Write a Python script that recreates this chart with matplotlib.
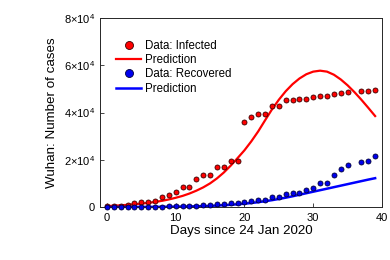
import matplotlib
matplotlib.use("Agg")
import matplotlib.pyplot as plt
import numpy as np

plt.rcParams['font.family'] = ['Liberation Sans', 'DejaVu Sans']
plt.rcParams['mathtext.fontset'] = 'custom'
plt.rcParams['mathtext.rm'] = 'Liberation Sans'

days = np.arange(0, 40)

# data (day 36 missing)
infected = [500, 550, 600, 700, 1600, 1950, 2260, 2650, 4200, 5080,
            6300, 8400, 8400, 11700, 13600, 13600, 16900, 16900, 19600, 19600,
            36100, 38100, 39500, 39500, 42750, 42750, 45300, 45450, 45600, 45850,
            46400, 47100, 47100, 47800, 48250, 48700, np.nan, 49250, 49250, 49500]
recovered = [30, 30, 40, 40, 40, 50, 100, 150, 200, 250,
             300, 400, 500, 600, 800, 900, 1300, 1400, 1700, 1800,
             2100, 2400, 2840, 2840, 4100, 4230, 5370, 6050, 6050, 7200,
             8170, 10300, 10300, 13400, 15950, 17650, np.nan, 19200, 19500, 21450]

# model curves
pred_inf = [400, 550, 720, 920, 1150, 1420, 1750, 2150, 2600, 3200,
            3900, 4700, 5700, 6900, 8300, 10000, 12100, 14600, 17500, 20700,
            24000, 27800, 32000, 36700, 41300, 45400, 49000, 52000, 54400, 56200,
            57300, 57700, 57300, 56000, 54000, 51500, 48600, 45400, 42000, 38500]
pred_rec = [0, 5, 10, 15, 25, 35, 45, 60, 80, 100,
            140, 180, 230, 300, 380, 480, 610, 760, 940, 1150,
            1400, 1700, 2050, 2450, 2900, 3400, 3950, 4550, 5200, 5840,
            6480, 7120, 7760, 8400, 9040, 9680, 10320, 10960, 11600, 12200]

yticks = [0, 20000, 40000, 60000, 80000]
ylabels = ['0', r'$2{\times}10^{4}$', r'$4{\times}10^{4}$', r'$6{\times}10^{4}$', r'$8{\times}10^{4}$']

fig = plt.figure(figsize=(3.9, 2.6), dpi=100)
ax = fig.add_axes([0.2564, 0.2038, 0.7231, 0.727])

ax.plot(days, infected, 'o', color='#ff0000', mec='#3a0000', mew=0.6, ms=3.6,
        label='Data: Infected', clip_on=False, zorder=3)
ax.plot(days, pred_inf, '-', color='#ff0000', lw=1.6, label='Prediction')
ax.plot(days, recovered, 'o', color='#0000ee', mec='#00003a', mew=0.6, ms=3.6,
        label='Data: Recovered', clip_on=False, zorder=3)
ax.plot(days, pred_rec, '-', color='#0000ff', lw=1.8, label='Prediction')

ax.set_xlim(-1, 40)
ax.set_ylim(0, 80000)
ax.set_xticks([0, 10, 20, 30, 40])
ax.set_yticks(yticks)
ax.set_yticklabels(ylabels)
ax.tick_params(direction='in', length=3, width=0.6, labelsize=8, colors='#262626',
               labelcolor='black', top=False, right=False)
ax.tick_params(axis='x', pad=4)
for s in ax.spines.values():
    s.set_color('#262626')
    s.set_linewidth(0.7)

ax.set_xlabel('Days since 24 Jan 2020', fontsize=9.6, labelpad=2)
ax.set_ylabel('Wuhan: Number of cases', fontsize=9.6, labelpad=4)

ax.legend(loc='upper left', frameon=False, fontsize=8.3, markerscale=1.6,
          handlelength=2.2, handletextpad=0.3, labelspacing=0.2,
          bbox_to_anchor=(0.02, 0.94))

fig.savefig('out.png', dpi=100)
